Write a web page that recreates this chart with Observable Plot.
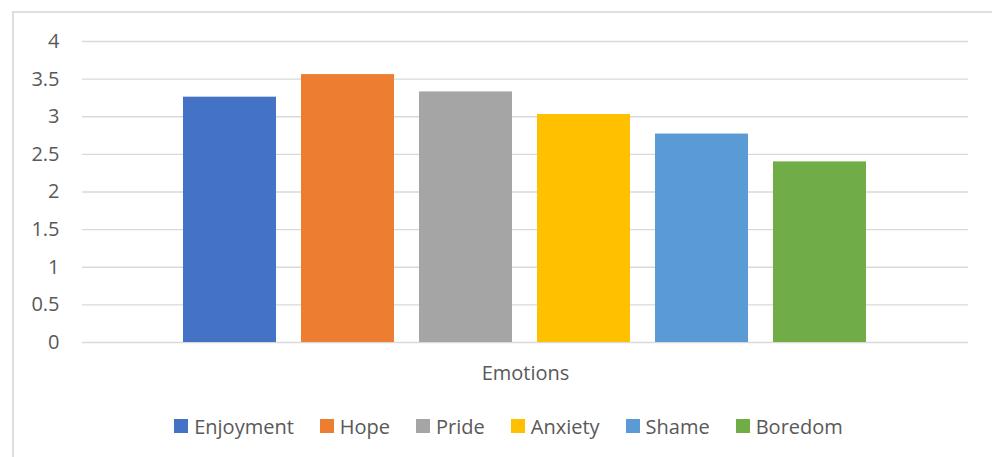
<!DOCTYPE html>
<html><head><meta charset="utf-8">
<script src="https://cdn.jsdelivr.net/npm/d3@7"></script>
<script src="https://cdn.jsdelivr.net/npm/@observablehq/plot@0.6"></script>
<style>
html,body{margin:0;padding:0;background:#fff;overflow:hidden;width:992px;height:457px;}
#frame{position:absolute;left:12px;top:11px;width:993px;height:470px;border:2px solid #dedede;box-sizing:border-box;}
#chart{position:absolute;left:0;top:0;}
#legend{position:absolute;left:12px;top:411px;width:993px;height:30px;display:flex;justify-content:center;align-items:center;font-family:"Open Sans";font-size:20px;color:#595959;white-space:nowrap;}
.item{display:flex;align-items:center;margin:0 13px;}
.sw{width:14px;height:14px;margin-right:6px;}
</style></head>
<body>
<div id="frame"></div>
<div id="chart"></div>
<div id="legend"></div>
<script>
const category = "Emotions";
const series = ["Enjoyment","Hope","Pride","Anxiety","Shame","Boredom"];
const values = [3.26,3.56,3.33,3.03,2.77,2.40];
const colors = ["#4472C4","#ED7D31","#A5A5A5","#FFC000","#5B9BD5","#70AD47"];
const yTicks = [0,0.5,1,1.5,2,2.5,3,3.5,4];

const data = series.map((s,i)=>({category, series:s, value: values[i]}));

const chart = Plot.plot({
  width: 992, height: 395,
  marginTop: 41, marginBottom: 53, marginLeft: 82, marginRight: 24,
  style: {fontFamily:"Open Sans", fontSize:"20px", color:"#595959", background:"transparent"},
  fx: {domain:[category], padding:0, label:null},
  x: {domain: series, paddingInner:0.21, paddingOuter:0.856, axis:null},
  y: {domain:[0,4], label:null},
  color: {domain: series, range: colors},
  marks: [
    Plot.gridY(yTicks, {stroke:"#d9d9d9", strokeOpacity:1, strokeWidth:1.3}),
    Plot.axisY(yTicks, {tickSize:0, tickPadding:23, tickFormat:d=>String(d), label:null}),
    Plot.axisFx({anchor:"bottom", tickSize:0, tickPadding:23, label:null}),
    Plot.barY(data, {fx:"category", x:"series", y:"value", fill:"series"})
  ]
});
document.getElementById("chart").append(chart);

const legend = document.getElementById("legend");
series.forEach((s,i)=>{
  const it = document.createElement("div"); it.className="item";
  const sw = document.createElement("span"); sw.className="sw"; sw.style.background=colors[i];
  const tx = document.createElement("span"); tx.textContent=s;
  it.append(sw, tx); legend.append(it);
});
</script>
</body></html>
